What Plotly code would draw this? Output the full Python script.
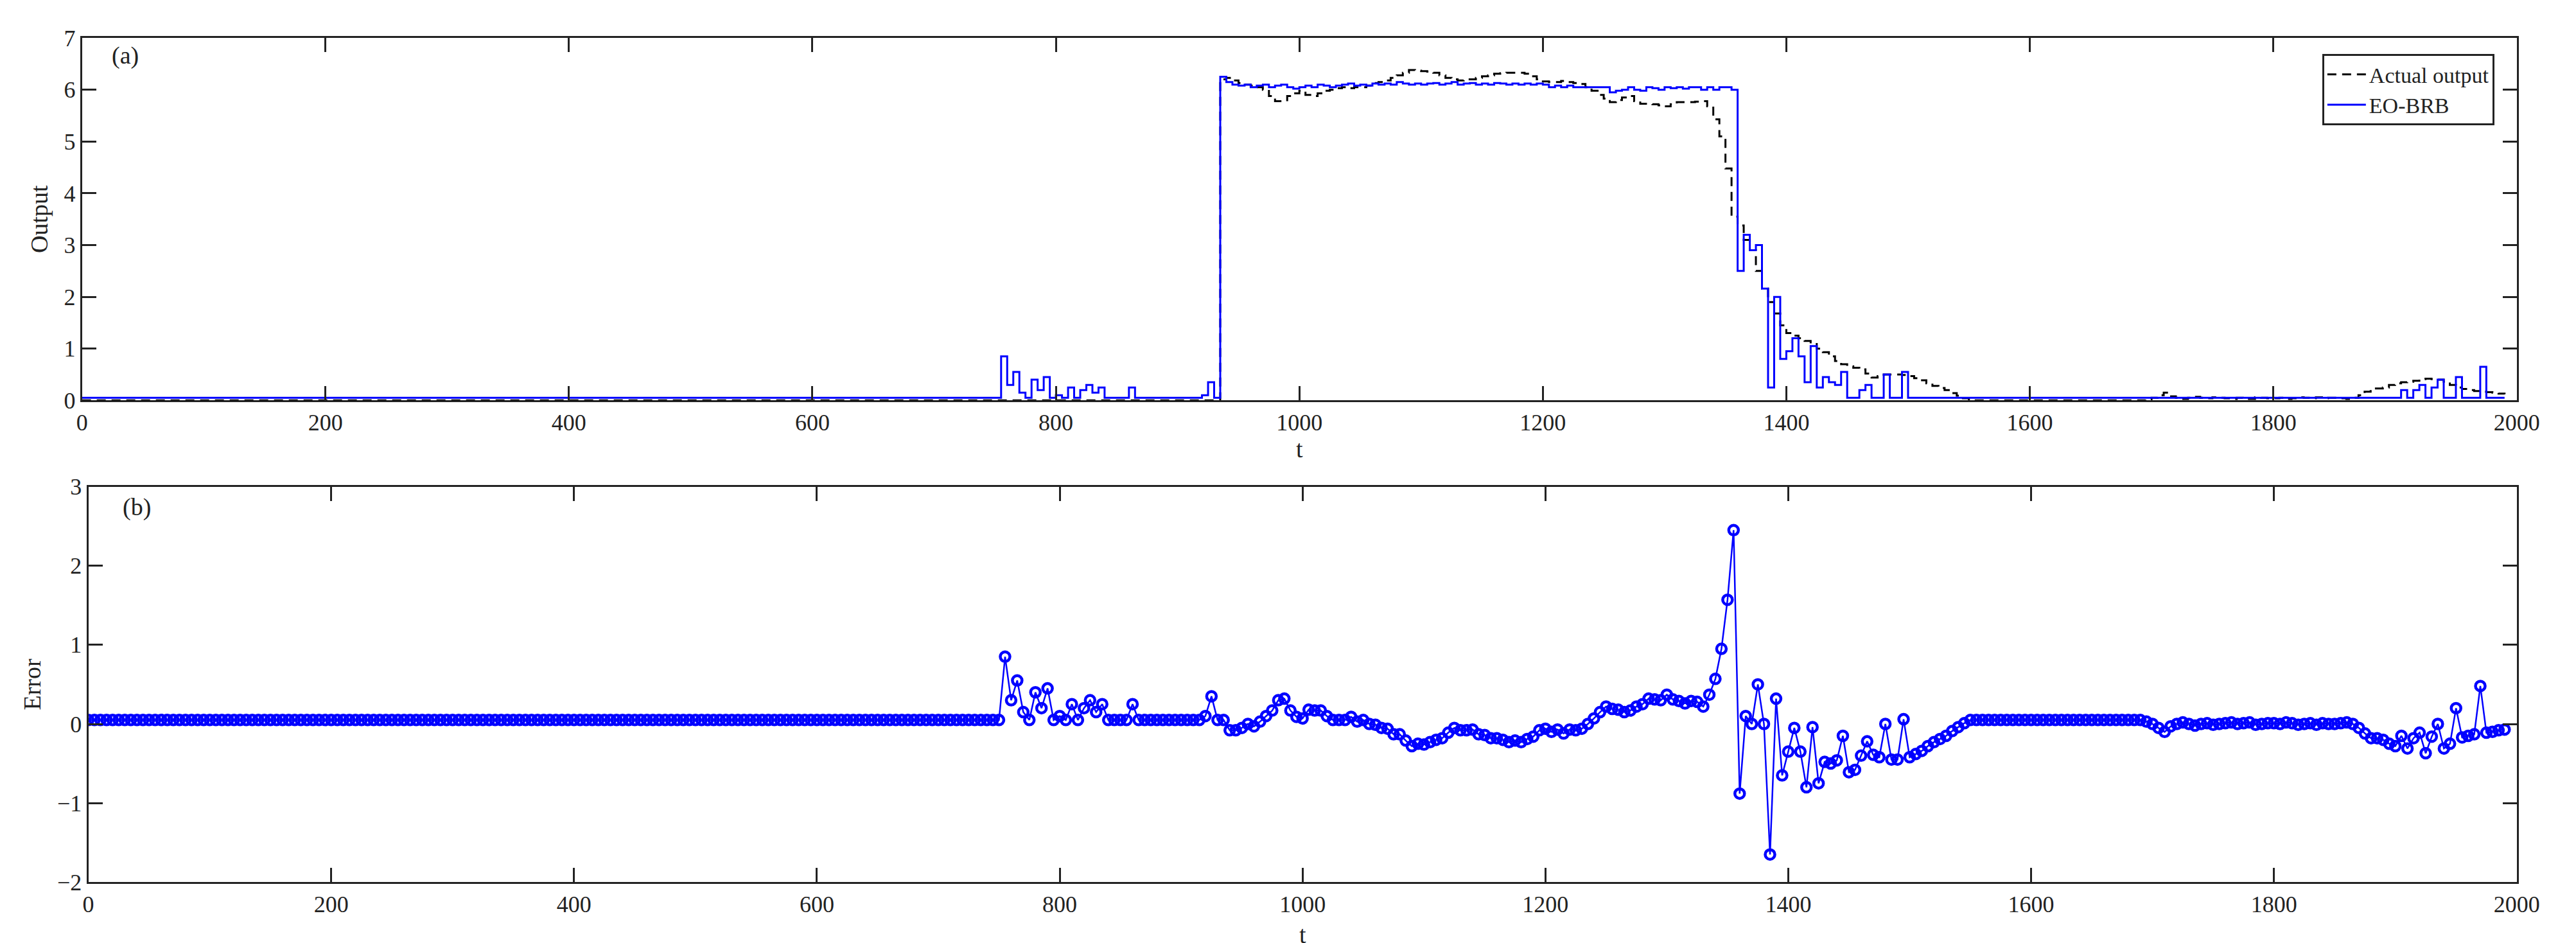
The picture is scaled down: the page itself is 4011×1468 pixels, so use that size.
import plotly.graph_objects as go

t = list(range(0, 1995, 5))

actual_flat = [0.0] * 150  # t = 0 .. 745
actual_vals = [
    0, 0, 0, 0, 0, 0, 0, 0, 0, 0,
    0, 0, 0, 0, 0, 0, 0, 0, 0, 0,
    0, 0, 0, 0, 0, 0, 0, 0, 0, 0,
    0, 0, 0, 0, 0, 0, 0.0, 6.2, 6.23, 6.18,
    6.13, 6.1, 6.08, 6.05, 6.0, 5.88, 5.78, 5.78, 5.88, 5.93,
    5.98, 5.9, 5.88, 5.93, 5.98, 6.0, 6.03, 6.05, 6.03, 6.05,
    6.05, 6.08, 6.13, 6.15, 6.18, 6.23, 6.28, 6.33, 6.38, 6.37,
    6.36, 6.35, 6.33, 6.28, 6.23, 6.2, 6.18, 6.2, 6.2, 6.23,
    6.26, 6.28, 6.31, 6.32, 6.33, 6.33, 6.33, 6.31, 6.26, 6.2,
    6.16, 6.15, 6.15, 6.17, 6.15, 6.13, 6.11, 6.05, 5.98, 5.9,
    5.83, 5.76, 5.8, 5.85, 5.88, 5.78, 5.73, 5.73, 5.72, 5.7,
    5.68, 5.72, 5.76, 5.76, 5.76, 5.77, 5.78, 5.68, 5.43, 5.1,
    4.48, 3.55, 3.38, 3.1, 2.9, 2.5, 2.16, 1.9, 1.68, 1.45,
    1.3, 1.25, 1.2, 1.15, 1.09, 1.0, 0.93, 0.85, 0.76, 0.7,
    0.66, 0.63, 0.6, 0.52, 0.44, 0.47, 0.5, 0.5, 0.5, 0.49,
    0.47, 0.43, 0.39, 0.33, 0.28, 0.24, 0.2, 0.14, 0.09, 0.04,
    0, 0, 0, 0, 0, 0, 0, 0, 0, 0,
    0, 0, 0, 0, 0, 0, 0, 0, 0, 0,
    0, 0, 0, 0, 0, 0, 0, 0, 0, 0.02,
    0.05, 0.1, 0.15, 0.08, 0.05, 0.03, 0.05, 0.07, 0.05, 0.04,
    0.06, 0.05, 0.04, 0.03, 0.05, 0.04, 0.03, 0.06, 0.05, 0.04,
    0.04, 0.05, 0.03, 0.04, 0.06, 0.05, 0.04, 0.06, 0.04, 0.05,
    0.05, 0.04, 0.03, 0.05, 0.1, 0.17, 0.23, 0.23, 0.25, 0.3,
    0.33, 0.35, 0.36, 0.38, 0.41, 0.42, 0.41, 0.4, 0.36, 0.3,
    0.25, 0.22, 0.2, 0.18, 0.17, 0.16, 0.15, 0.13, 0.12,
]

pred_flat = [0.05] * 150  # t = 0 .. 745
pred_vals = [
    0.05, 0.85, 0.3, 0.55, 0.15, 0.05, 0.4, 0.2, 0.45, 0.05,
    0.1, 0.05, 0.25, 0.05, 0.2, 0.3, 0.15, 0.25, 0.05, 0.05,
    0.05, 0.05, 0.25, 0.05, 0.05, 0.05, 0.05, 0.05, 0.05, 0.05,
    0.05, 0.05, 0.05, 0.05, 0.1, 0.35, 0.05, 6.25, 6.15, 6.1,
    6.08, 6.1, 6.05, 6.08, 6.1, 6.05, 6.08, 6.1, 6.05, 6.02,
    6.05, 6.08, 6.05, 6.1, 6.08, 6.05, 6.08, 6.1, 6.12, 6.08,
    6.1, 6.08, 6.12, 6.1, 6.12, 6.1, 6.15, 6.12, 6.1, 6.12,
    6.1, 6.12, 6.13, 6.1, 6.12, 6.15, 6.1, 6.12, 6.13, 6.1,
    6.12, 6.1, 6.13, 6.12, 6.1, 6.12, 6.1, 6.12, 6.1, 6.12,
    6.1, 6.05, 6.08, 6.05, 6.08, 6.05, 6.05, 6.05, 6.05, 6.05,
    6.05, 5.95, 5.98, 6.0, 6.05, 6.0, 5.98, 6.05, 6.03, 6.0,
    6.05, 6.03, 6.05, 6.02, 6.05, 6.05, 6.0, 6.05, 6.0, 6.05,
    6.05, 6.0, 2.5, 3.2, 2.9, 3.0, 2.16, 0.25, 2.0, 0.8,
    0.95, 1.2, 0.85, 0.35, 1.05, 0.25, 0.45, 0.35, 0.3, 0.55,
    0.05, 0.05, 0.2, 0.3, 0.05, 0.05, 0.5, 0.05, 0.05, 0.55,
    0.05, 0.05, 0.05, 0.05, 0.05, 0.05, 0.05, 0.05, 0.05, 0.05,
    0.05, 0.05, 0.05, 0.05, 0.05, 0.05, 0.05, 0.05, 0.05, 0.05,
    0.05, 0.05, 0.05, 0.05, 0.05, 0.05, 0.05, 0.05, 0.05, 0.05,
    0.05, 0.05, 0.05, 0.05, 0.05, 0.05, 0.05, 0.05, 0.05, 0.05,
    0.05, 0.05, 0.05, 0.05, 0.05, 0.05, 0.05, 0.05, 0.05, 0.05,
    0.05, 0.05, 0.05, 0.05, 0.05, 0.05, 0.05, 0.05, 0.05, 0.05,
    0.05, 0.05, 0.05, 0.05, 0.05, 0.05, 0.05, 0.05, 0.05, 0.05,
    0.05, 0.05, 0.05, 0.05, 0.05, 0.05, 0.05, 0.05, 0.05, 0.05,
    0.05, 0.2, 0.05, 0.2, 0.3, 0.05, 0.25, 0.4, 0.05, 0.05,
    0.45, 0.05, 0.05, 0.05, 0.65, 0.05, 0.05, 0.05, 0.05,
]

actual = actual_flat + actual_vals
pred = pred_flat + pred_vals
error = [p - a for p, a in zip(pred, actual)]

FONT = "Liberation Serif"
fig = go.Figure()
fig.add_trace(go.Scatter(x=t, y=actual, mode="lines", name="Actual output",
                         line=dict(color="black", width=3, dash="14px,9px", shape="hv"),
                         xaxis="x", yaxis="y"))
fig.add_trace(go.Scatter(x=t, y=pred, mode="lines", name="EO-BRB",
                         line=dict(color="#0000ff", width=3, shape="hv"),
                         xaxis="x", yaxis="y"))
fig.add_trace(go.Scatter(x=t, y=error, mode="lines+markers", showlegend=False,
                         line=dict(color="#0000ff", width=2.5),
                         marker=dict(symbol="circle-open", size=15, color="#0000ff",
                                     line=dict(width=4.5, color="#0000ff")),
                         xaxis="x2", yaxis="y2"))

ax = dict(showline=True, linecolor="#222", linewidth=3, mirror="ticks", ticks="inside",
          ticklen=22, tickwidth=3, tickcolor="#222", showgrid=False, zeroline=False,
          tickfont=dict(family=FONT, size=36, color="#222"))

fig.update_layout(
    width=4011, height=1468, paper_bgcolor="white", plot_bgcolor="white",
    margin=dict(l=0, r=0, t=0, b=0),
    font=dict(family=FONT, color="#222"),
    xaxis=dict(ax, domain=[0.0279, 0.9838], range=[0, 2000], tick0=0, dtick=200,
               anchor="y", title=dict(text="t", font=dict(family=FONT, size=38), standoff=8)),
    yaxis=dict(ax, domain=[0.5824, 0.9775], range=[0, 7], dtick=1, anchor="x",
               title=dict(text="Output", font=dict(family=FONT, size=38), standoff=14)),
    xaxis2=dict(ax, domain=[0.0304, 0.9838], range=[0, 2000], tick0=0, dtick=200,
                anchor="y2", title=dict(text="t", font=dict(family=FONT, size=38), standoff=20)),
    yaxis2=dict(ax, domain=[0.0572, 0.4884], range=[-2, 3], dtick=1, anchor="x2",
                title=dict(text="Error", font=dict(family=FONT, size=38), standoff=14)),
    legend=dict(x=0.975, y=0.96, xanchor="right", yanchor="top", bgcolor="white",
                bordercolor="#222", borderwidth=3, itemwidth=60,
                font=dict(family=FONT, size=34, color="#222")),
    annotations=[
        dict(text="(a)", x=0.045, y=6.95, xref="paper", yref="y", showarrow=False,
             xanchor="center", yanchor="top", font=dict(family=FONT, size=38, color="#222")),
        dict(text="(b)", x=0.0495, y=2.93, xref="paper", yref="y2", showarrow=False,
             xanchor="center", yanchor="top", font=dict(family=FONT, size=38, color="#222")),
    ],
)
fig.write_html("out.html")
